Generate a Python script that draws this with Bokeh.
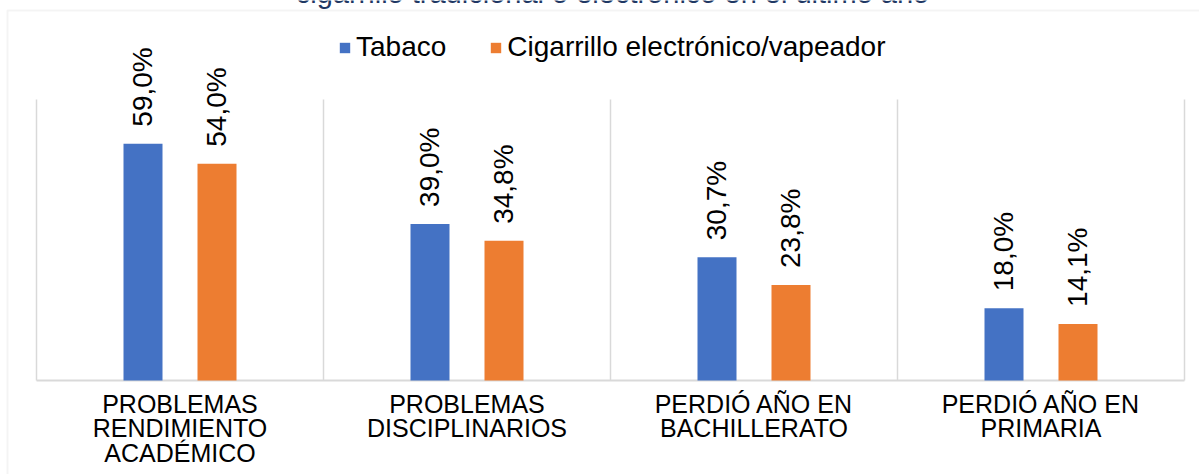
from math import pi

import numpy as np
from bokeh.core.properties import value
from bokeh.embed import file_html
from bokeh.models import (BoxAnnotation, ColumnDataSource, Label, LabelSet,
                          Legend, LegendItem, Range1d)
from bokeh.plotting import figure
from bokeh.resources import INLINE

# --- data -------------------------------------------------------------
categories = [
    "PROBLEMAS\nRENDIMIENTO\nACADÉMICO",
    "PROBLEMAS\nDISCIPLINARIOS",
    "PERDIÓ AÑO EN\nBACHILLERATO",
    "PERDIÓ AÑO EN\nPRIMARIA",
]
series_names = ["Tabaco", "Cigarrillo electrónico/vapeador"]
tabaco = [59.0, 39.0, 30.7, 18.0]
cigarrillo_electronico = [54.0, 34.8, 23.8, 14.1]
title_text = "cigarrillo tradicional o electrónico en el último año"
y_max = 70

# --- layout (pixels) and style -----------------------------------------
W, H = 1199, 474
PLOT_LEFT, PLOT_RIGHT, PLOT_TOP, PLOT_BOTTOM = 36, 1184, 99, 380
FONT = "Liberation Sans"
BLUE = "#4472C4"
ORANGE = "#ED7D31"
GRID = "#D9D9D9"
TITLE_COLOR = "#1F3864"

n = len(categories)
x_px = (PLOT_RIGHT - PLOT_LEFT) / n          # pixels per category
y_px = (PLOT_BOTTOM - PLOT_TOP) / y_max      # pixels per percent

centers = np.arange(n) + 0.5
bounds = np.arange(n + 1)
offset = 37 / x_px
bar_w = 39 / x_px


def pct(v):
    return f"{v:.1f}%".replace(".", ",")


src_t = ColumnDataSource(dict(x=centers - offset, y=tabaco,
                              label=[pct(v) for v in tabaco]))
src_c = ColumnDataSource(dict(x=centers + offset, y=cigarrillo_electronico,
                              label=[pct(v) for v in cigarrillo_electronico]))

# the frame spans the whole canvas; the plot area is the 0..n x 0..y_max box
p = figure(width=W, height=H,
           x_range=Range1d(-PLOT_LEFT / x_px, n + (W - PLOT_RIGHT) / x_px),
           y_range=Range1d(-(H - PLOT_BOTTOM) / y_px, y_max + PLOT_TOP / y_px),
           x_axis_location=None, y_axis_location=None,
           output_backend="svg", toolbar_location=None, min_border=0)
p.outline_line_color = None
p.grid.visible = False
p.background_fill_color = "white"
p.border_fill_color = "white"

# category separators and baseline
p.segment(x0=bounds, y0=0, x1=bounds, y1=y_max,
          line_color=GRID, line_width=1.5)
p.segment(x0=[0], y0=[0], x1=[n], y1=[0], line_color=GRID, line_width=2)

r_t = p.vbar(x="x", top="y", width=bar_w, source=src_t,
             fill_color=BLUE, line_color=None)
r_c = p.vbar(x="x", top="y", width=bar_w, source=src_c,
             fill_color=ORANGE, line_color=None)

# value labels, rotated
for src in (src_t, src_c):
    p.add_layout(LabelSet(x="x", y="y", text="label", source=src,
                          angle=pi / 2, text_align="left",
                          text_baseline="middle", y_offset=17,
                          text_font=value(FONT), text_font_size="28px",
                          text_color="#000000"))

# category labels under the baseline
p.text(x=centers, y=[0] * n, text=categories, y_offset=9,
       text_align="center", text_baseline="top",
       text_font=value(FONT), text_font_size="25px",
       text_line_height=0.88, text_color="#000000")

# legend
legend = Legend(items=[LegendItem(label=series_names[0], renderers=[r_t]),
                       LegendItem(label=series_names[1], renderers=[r_c])],
                orientation="horizontal", location=(338, 411),
                glyph_width=13, glyph_height=13, label_height=13,
                label_standoff=5, spacing=43, padding=0, margin=0,
                border_line_color=None, background_fill_alpha=0,
                label_text_font=FONT, label_text_font_size="28px",
                label_text_color="#000000")
p.add_layout(legend)

# title (second line, running off the top edge)
p.add_layout(Label(x=612, y=H + 8, x_units="screen", y_units="screen",
                   text=title_text, text_align="center",
                   text_baseline="alphabetic", text_font=FONT,
                   text_font_size="29px", text_color=TITLE_COLOR))

# chart border
p.add_layout(BoxAnnotation(left=7, right=3000, top=H - 10, bottom=-3000,
                           left_units="screen", right_units="screen",
                           top_units="screen", bottom_units="screen",
                           fill_alpha=0, line_color=GRID, line_width=2))

open("out.html", "w").write(file_html(p, INLINE))
